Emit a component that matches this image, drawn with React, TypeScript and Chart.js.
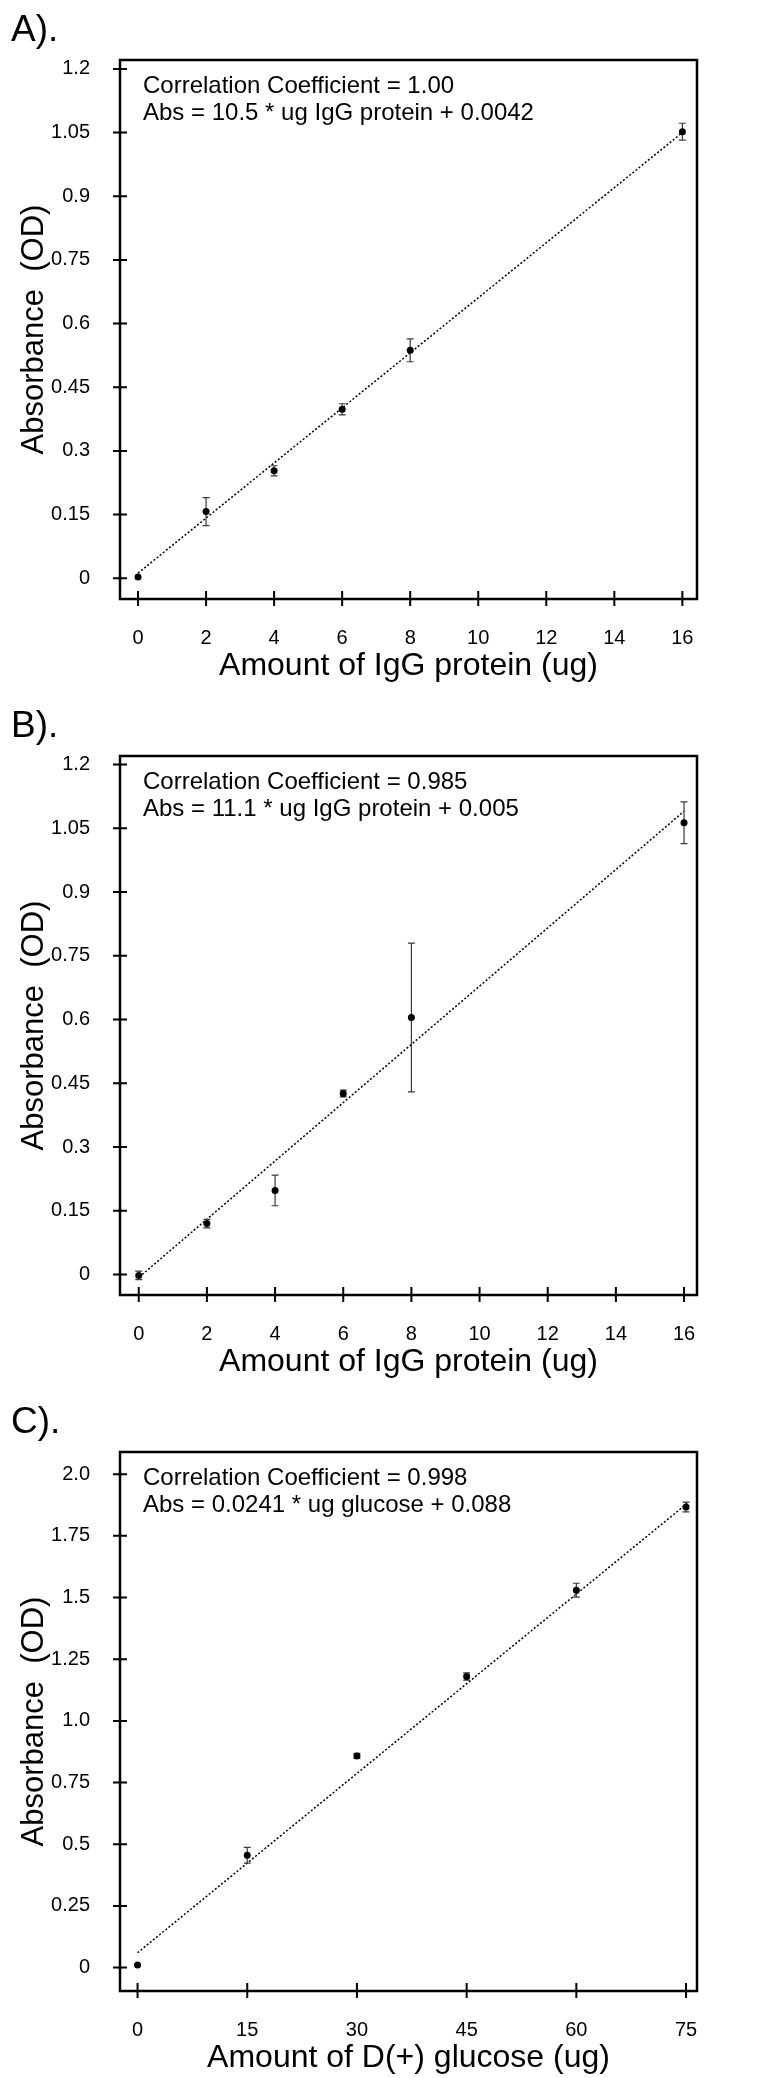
import { useEffect, useRef } from 'react'
import Chart from 'chart.js/auto'

const FONT = '"Liberation Sans", Arial, Helvetica, sans-serif'

// A). IgG protein, first run
const amountsA = [0, 2, 4, 6, 8, 16]
const absA = [0.003, 0.157, 0.253, 0.398, 0.537, 1.052]
const errA = [0, 0.033, 0.012, 0.013, 0.027, 0.02]
const fitXA = [0, 16]
const fitYA = [0.012, 1.05]

// B). IgG protein, second run
const amountsB = [0, 2, 4, 6, 8, 16]
const absB = [-0.002, 0.12, 0.198, 0.426, 0.605, 1.063]
const errB = [0.01, 0.01, 0.036, 0.008, 0.175, 0.049]
const fitXB = [0.1, 16]
const fitYB = [0.0, 1.09]

// C). D(+) glucose
const amountsC = [0, 15, 30, 45, 60, 75]
const absC = [0.01, 0.455, 0.858, 1.18, 1.53, 1.867]
const errC = [0, 0.032, 0.01, 0.015, 0.028, 0.02]
const fitXC = [0, 75.3]
const fitYC = [0.06, 1.885]

const iggXTicks = [0, 2, 4, 6, 8, 10, 12, 14, 16]
const iggYTicks = [0, 0.15, 0.3, 0.45, 0.6, 0.75, 0.9, 1.05, 1.2]
const iggYLabels = ['0', '0.15', '0.3', '0.45', '0.6', '0.75', '0.9', '1.05', '1.2']
const glucoseXTicks = [0, 15, 30, 45, 60, 75]
const glucoseYTicks = [0, 0.25, 0.5, 0.75, 1, 1.25, 1.5, 1.75, 2]
const glucoseYLabels = ['0', '0.25', '0.5', '0.75', '1.0', '1.25', '1.5', '1.75', '2.0']

type PanelProps = {
  tag: string
  top: number
  height: number
  xs: number[]
  ys: number[]
  errs: number[]
  fitX: number[]
  fitY: number[]
  xTicks: number[]
  yTicks: number[]
  yLabels: string[]
  xRange: number[]
  yRange: number[]
  notes: string[]
  xTitle: string
}

const Panel = (p: PanelProps) => {
  const canvasRef = useRef<HTMLCanvasElement>(null)

  useEffect(() => {
    const ctx = canvasRef.current!.getContext('2d')!

    const frame = {
      id: 'frame',
      // error bars go after the dotted fit line and under the dots
      afterDatasetDraw(chart: any, args: any) {
        if (args.index !== 1) return
        const c = chart.ctx
        const sx = chart.scales.x
        const sy = chart.scales.y
        c.save()
        c.strokeStyle = '#3a3a3a'
        c.lineWidth = 1.2
        c.beginPath()
        p.xs.forEach((x, i) => {
          if (!p.errs[i]) return
          const px = sx.getPixelForValue(x)
          const hi = sy.getPixelForValue(p.ys[i] + p.errs[i])
          const lo = sy.getPixelForValue(p.ys[i] - p.errs[i])
          c.moveTo(px, hi); c.lineTo(px, lo)
          c.moveTo(px - 3.5, hi); c.lineTo(px + 3.5, hi)
          c.moveTo(px - 3.5, lo); c.lineTo(px + 3.5, lo)
        })
        c.stroke()
        c.restore()
      },
      afterDraw(chart: any) {
        const c = chart.ctx
        const a = chart.chartArea
        const sx = chart.scales.x
        const sy = chart.scales.y
        c.save()
        c.strokeStyle = '#000'
        c.lineWidth = 2
        c.beginPath()
        p.yTicks.forEach((v) => {
          const py = sy.getPixelForValue(v)
          c.moveTo(a.left - 7, py); c.lineTo(a.left + 7, py)
        })
        p.xTicks.forEach((v) => {
          const px = sx.getPixelForValue(v)
          c.moveTo(px, a.bottom - 8); c.lineTo(px, a.bottom + 7)
        })
        c.stroke()
        c.lineWidth = 2.5
        c.strokeRect(a.left, a.top, a.right - a.left, a.bottom - a.top)

        c.fillStyle = '#000'
        c.textBaseline = 'alphabetic'
        c.textAlign = 'left'
        c.font = `37px ${FONT}`
        c.fillText(p.tag, 11, 41)
        c.font = `24px ${FONT}`
        p.notes.forEach((t, i) => c.fillText(t, a.left + 23, 93 + i * 27))

        c.textAlign = 'center'
        c.font = `32px ${FONT}`
        c.fillText(p.xTitle, (a.left + a.right) / 2, 675)

        c.translate(42.5, (a.top + a.bottom) / 2)
        c.rotate(-Math.PI / 2)
        c.font = `31px ${FONT}`
        c.fillText('Absorbance  (OD)', 0, 0)
        c.restore()
      },
    }

    const chart = new Chart(ctx, {
      type: 'scatter',
      data: {
        datasets: [
          {
            data: p.xs.map((x, i) => ({ x, y: p.ys[i] })),
            pointRadius: 3.5,
            pointBackgroundColor: '#000',
            pointBorderColor: '#000',
            pointBorderWidth: 0,
          },
          {
            data: p.fitX.map((x, i) => ({ x, y: p.fitY[i] })),
            showLine: true,
            pointRadius: 0,
            borderColor: '#000',
            borderWidth: 1.5,
            borderDash: [2, 2],
          },
        ],
      },
      options: {
        responsive: false,
        animation: false,
        events: [],
        layout: { padding: { top: 60, right: 74, left: 0, bottom: 0 } },
        plugins: { legend: { display: false }, tooltip: { enabled: false } },
        scales: {
          x: {
            type: 'linear',
            min: p.xRange[0],
            max: p.xRange[1],
            grid: { display: false },
            border: { display: false },
            afterBuildTicks: (s: any) => { s.ticks = p.xTicks.map((value) => ({ value })) },
            afterFit: (s: any) => { s.height = p.height - 599 },
            ticks: {
              padding: 19,
              maxRotation: 0,
              autoSkip: false,
              color: '#000',
              font: { family: FONT, size: 20 },
              callback: (v: any) => String(v),
            },
          },
          y: {
            type: 'linear',
            min: p.yRange[0],
            max: p.yRange[1],
            grid: { display: false },
            border: { display: false },
            afterBuildTicks: (s: any) => { s.ticks = p.yTicks.map((value) => ({ value })) },
            afterFit: (s: any) => { s.width = 120 },
            ticks: {
              padding: 22,
              autoSkip: false,
              color: '#000',
              font: { family: FONT, size: 20 },
              callback: (_v: any, i: number) => p.yLabels[i],
            },
          },
        },
      },
      plugins: [frame],
    } as any)

    return () => chart.destroy()
  }, [p])

  return (
    <canvas
      ref={canvasRef}
      width={771}
      height={p.height}
      style={{ position: 'absolute', left: 0, top: p.top, display: 'block' }}
    />
  )
}

const panelA: PanelProps = {
  tag: 'A).', top: 0, height: 696,
  xs: amountsA, ys: absA, errs: errA, fitX: fitXA, fitY: fitYA,
  xTicks: iggXTicks, yTicks: iggYTicks, yLabels: iggYLabels,
  xRange: [-0.53, 16.43], yRange: [-0.049, 1.221],
  notes: ['Correlation Coefficient = 1.00', 'Abs = 10.5 * ug IgG protein + 0.0042'],
  xTitle: 'Amount of IgG protein (ug)',
}

const panelB: PanelProps = {
  tag: 'B).', top: 696, height: 696,
  xs: amountsB, ys: absB, errs: errB, fitX: fitXB, fitY: fitYB,
  xTicks: iggXTicks, yTicks: iggYTicks, yLabels: iggYLabels,
  xRange: [-0.55, 16.38], yRange: [-0.048, 1.22],
  notes: ['Correlation Coefficient = 0.985', 'Abs = 11.1 * ug IgG protein + 0.005'],
  xTitle: 'Amount of IgG protein (ug)',
}

const panelC: PanelProps = {
  tag: 'C).', top: 1392, height: 686,
  xs: amountsC, ys: absC, errs: errC, fitX: fitXC, fitY: fitYC,
  xTicks: glucoseXTicks, yTicks: glucoseYTicks, yLabels: glucoseYLabels,
  xRange: [-2.4, 76.5], yRange: [-0.095, 2.09],
  notes: ['Correlation Coefficient = 0.998', 'Abs = 0.0241 * ug glucose + 0.088'],
  xTitle: 'Amount of D(+) glucose (ug)',
}

export default function App() {
  return (
    <div style={{ position: 'absolute', left: 0, top: 0, width: 771, height: 2078, background: '#fff' }}>
      <Panel {...panelA} />
      <Panel {...panelB} />
      <Panel {...panelC} />
    </div>
  )
}
